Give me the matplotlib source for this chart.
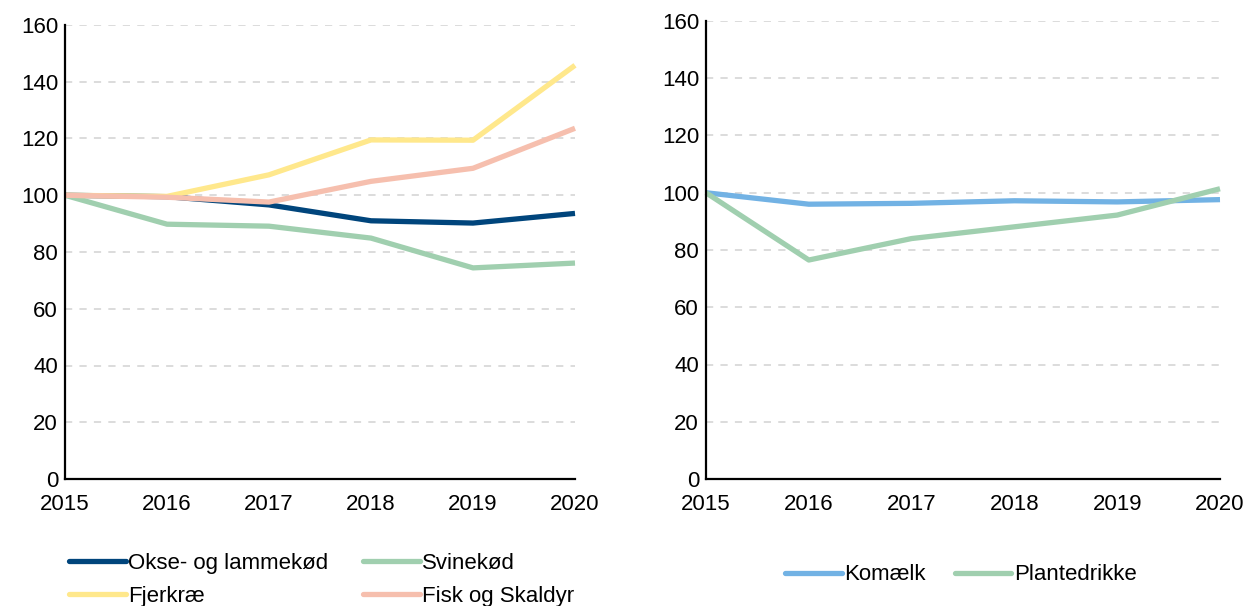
import matplotlib
matplotlib.use("Agg")
import matplotlib.pyplot as plt

years = [2015, 2016, 2017, 2018, 2019, 2020]

okse = [100, 99.5, 96.6, 91.0, 90.2, 93.6]
svine = [100, 89.8, 89.1, 84.9, 74.4, 76.1]
fjerkrae = [100, 99.6, 107.2, 119.5, 119.4, 145.8]
fisk = [100, 99.3, 97.6, 104.9, 109.5, 123.6]

komaelk = [100, 96.0, 96.3, 97.2, 96.8, 97.6]
plantedrikke = [100, 76.5, 84.0, 88.1, 92.2, 101.4]

left_series = [
    ("Okse- og lammekød", okse, "#00457C"),
    ("Svinekød", svine, "#A0CFAF"),
    ("Fjerkræ", fjerkrae, "#FFE88C"),
    ("Fisk og Skaldyr", fisk, "#F6BFAE"),
]
right_series = [
    ("Komælk", komaelk, "#72B2E4"),
    ("Plantedrikke", plantedrikke, "#A0CFAF"),
]
yticks = [0, 20, 40, 60, 80, 100, 120, 140, 160]

plt.rcParams['font.family'] = ['Liberation Sans', 'DejaVu Sans']

W, H = 1245, 606
FS = 16
fig = plt.figure(figsize=(W / 100, H / 100), dpi=100)


def make_ax(x0, x1, ytop, ybot):
    return fig.add_axes([x0 / W, 1 - ybot / H, (x1 - x0) / W, (ybot - ytop) / H])


def style(ax):
    ax.set_xlim(2015, 2020)
    ax.set_ylim(0, 160)
    ax.set_yticks(yticks)
    ax.set_xticks(years)
    ax.set_xticklabels([str(y) for y in years])
    for s in ["top", "right"]:
        ax.spines[s].set_visible(False)
    for s in ["left", "bottom"]:
        ax.spines[s].set_linewidth(1.6)
        ax.spines[s].set_color("black")
    ax.tick_params(length=0, labelsize=FS, colors="black")
    ax.tick_params(axis="y", pad=5)
    ax.tick_params(axis="x", pad=11)
    ax.yaxis.grid(True, color="#D9D9D9", linestyle=(0, (4, 4)), linewidth=1.3)
    ax.set_axisbelow(True)


axL = make_ax(65, 575, 25, 479)
style(axL)
linesL = {}
for name, vals, c in left_series:
    linesL[name], = axL.plot(years, vals, color=c, linewidth=3.8, label=name,
                             solid_capstyle="butt", clip_on=False)

axR = make_ax(706, 1220, 21, 479)
style(axR)
for name, vals, c in right_series:
    axR.plot(years, vals, color=c, linewidth=3.8, label=name,
             solid_capstyle="butt", clip_on=False)

# row-major order for the 2-column legend
order = ["Okse- og lammekød", "Fjerkræ", "Svinekød", "Fisk og Skaldyr"]
legL = fig.legend([linesL[n] for n in order], order, loc="center left",
                  bbox_to_anchor=(69 / W, 1 - 580 / H), ncol=2, frameon=False,
                  fontsize=FS, handlelength=2.55, handletextpad=0.12,
                  columnspacing=1.55, labelspacing=0.55, borderaxespad=0,
                  borderpad=0)
for l in legL.get_lines():
    l.set_solid_capstyle("round")
legR = fig.legend(*axR.get_legend_handles_labels(), loc="center left",
                  bbox_to_anchor=(785 / W, 1 - 575 / H), ncol=2, frameon=False,
                  fontsize=FS, handlelength=2.55, handletextpad=0.12,
                  columnspacing=1.3, borderaxespad=0, borderpad=0)
for l in legR.get_lines():
    l.set_solid_capstyle("round")

fig.savefig("out.png", dpi=100, facecolor="white")
